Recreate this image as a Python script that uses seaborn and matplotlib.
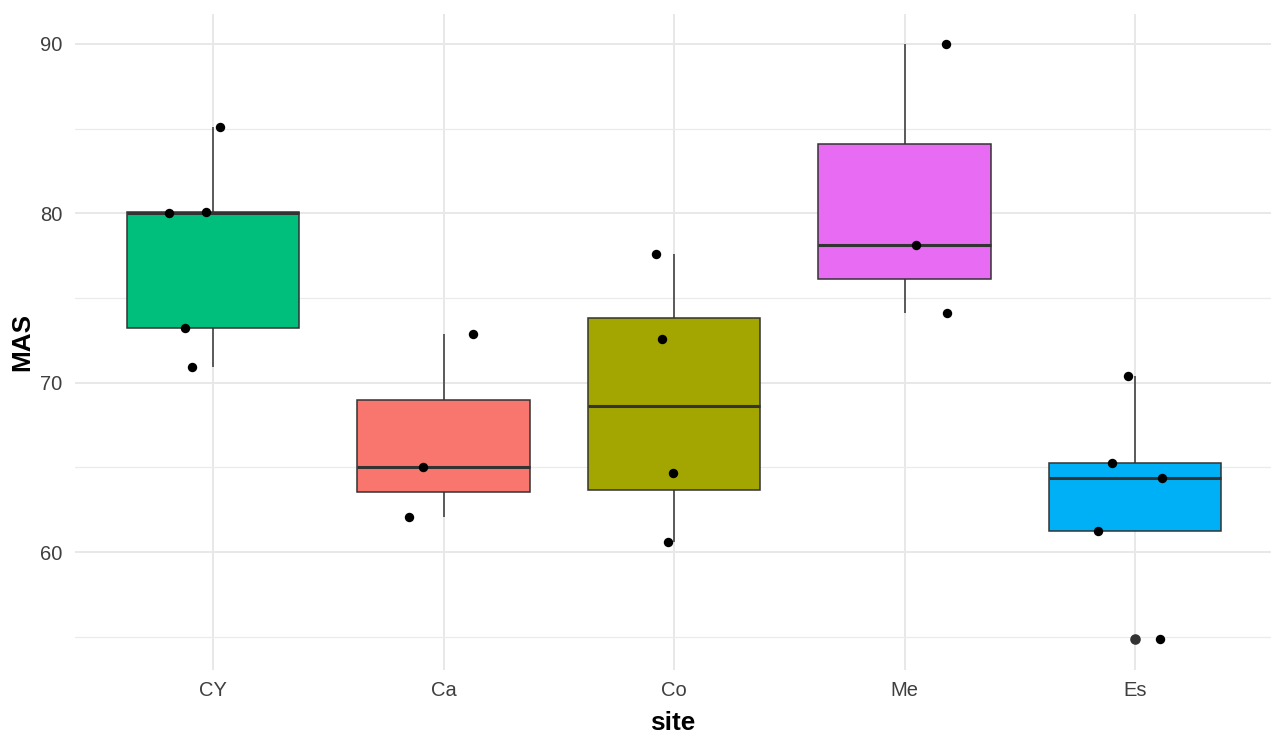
import numpy as np
import pandas as pd
import matplotlib
matplotlib.use("Agg")
import matplotlib.pyplot as plt
from matplotlib.ticker import MultipleLocator
import seaborn as sns

# Sites in display order and the MAS measurements recorded at each
sites = ["CY", "Ca", "Co", "Me", "Es"]
mas_cy = [85.1, 80.0, 80.1, 73.25, 70.9]
mas_ca = [72.9, 65.0, 62.05]
mas_co = [77.6, 72.55, 64.65, 60.6]
mas_me = [90.0, 78.15, 74.1]
mas_es = [70.4, 65.28, 64.4, 61.22, 54.85]

# Horizontal jitter applied to each point (in category units)
jitter_cy = [0.03, -0.19, -0.03, -0.12, -0.09]
jitter_ca = [0.13, -0.087, -0.15]
jitter_co = [-0.078, -0.053, -0.003, -0.027]
jitter_me = [0.178, 0.05, 0.185]
jitter_es = [-0.032, -0.10, 0.117, -0.16, 0.108]

site_colors = {"CY": "#00BF7D", "Ca": "#F8766D", "Co": "#A3A500",
               "Me": "#E76BF3", "Es": "#00B0F6"}

values = [mas_cy, mas_ca, mas_co, mas_me, mas_es]
jitters = [jitter_cy, jitter_ca, jitter_co, jitter_me, jitter_es]
df = pd.DataFrame({
    "site": [s for s, v in zip(sites, values) for _ in v],
    "MAS": [x for v in values for x in v],
    "jit": [j for js in jitters for j in js],
})
df["xpos"] = df["site"].map({s: i for i, s in enumerate(sites)}) + df["jit"]

sns.set_theme(style="white")
plt.rcParams["font.family"] = ["Liberation Sans", "DejaVu Sans"]

W, H = 1271, 740
fig = plt.figure(figsize=(W / 100, H / 100), dpi=100)
left_px, right_px, top_px, bottom_px = 74.7, 1271, 14, 670
ax = fig.add_axes([left_px / W, 1 - bottom_px / H,
                   (right_px - left_px) / W, (bottom_px - top_px) / H])

edge = "#333333"
sns.boxplot(data=df, x="site", y="MAS", hue="site", order=sites,
            hue_order=sites, palette=site_colors, width=0.75, legend=False,
            linecolor=edge, linewidth=1.1, whis=1.5, showcaps=False,
            saturation=1, ax=ax,
            medianprops=dict(color=edge, linewidth=2.2),
            flierprops=dict(marker="o", markersize=6.6,
                            markerfacecolor=edge, markeredgecolor=edge),
            zorder=2)

ax.scatter(df["xpos"], df["MAS"], s=46, color="black", linewidths=0,
           zorder=4)

ax.set_xlim(-0.6, 4.59)
ax.set_ylim(53.04, 91.76)
ax.yaxis.set_major_locator(MultipleLocator(10))
ax.yaxis.set_minor_locator(MultipleLocator(5))
ax.grid(True, which="major", color="#E8E8E8", linewidth=1.4, zorder=0)
ax.grid(True, which="minor", axis="y", color="#EBEBEB", linewidth=0.9,
        zorder=0)
ax.set_axisbelow(True)
for sp in ax.spines.values():
    sp.set_visible(False)

ax.tick_params(axis="both", which="both", length=0, labelsize=14.5,
               labelcolor="#3F3F3F")
ax.tick_params(axis="y", pad=9)
ax.tick_params(axis="x", pad=8)

ax.set_xlabel("site", fontsize=18.8, fontweight="bold", color="black")
ax.set_ylabel("MAS", fontsize=18.8, fontweight="bold", color="black")
ax.xaxis.set_label_coords(0.5, (bottom_px - 723) / (bottom_px - top_px))
ax.xaxis.label.set_va("center")
ax.yaxis.set_label_coords((22 - left_px) / (right_px - left_px), 0.5)
ax.yaxis.label.set_va("center")

fig.savefig("out.png", dpi=100, facecolor="white")
